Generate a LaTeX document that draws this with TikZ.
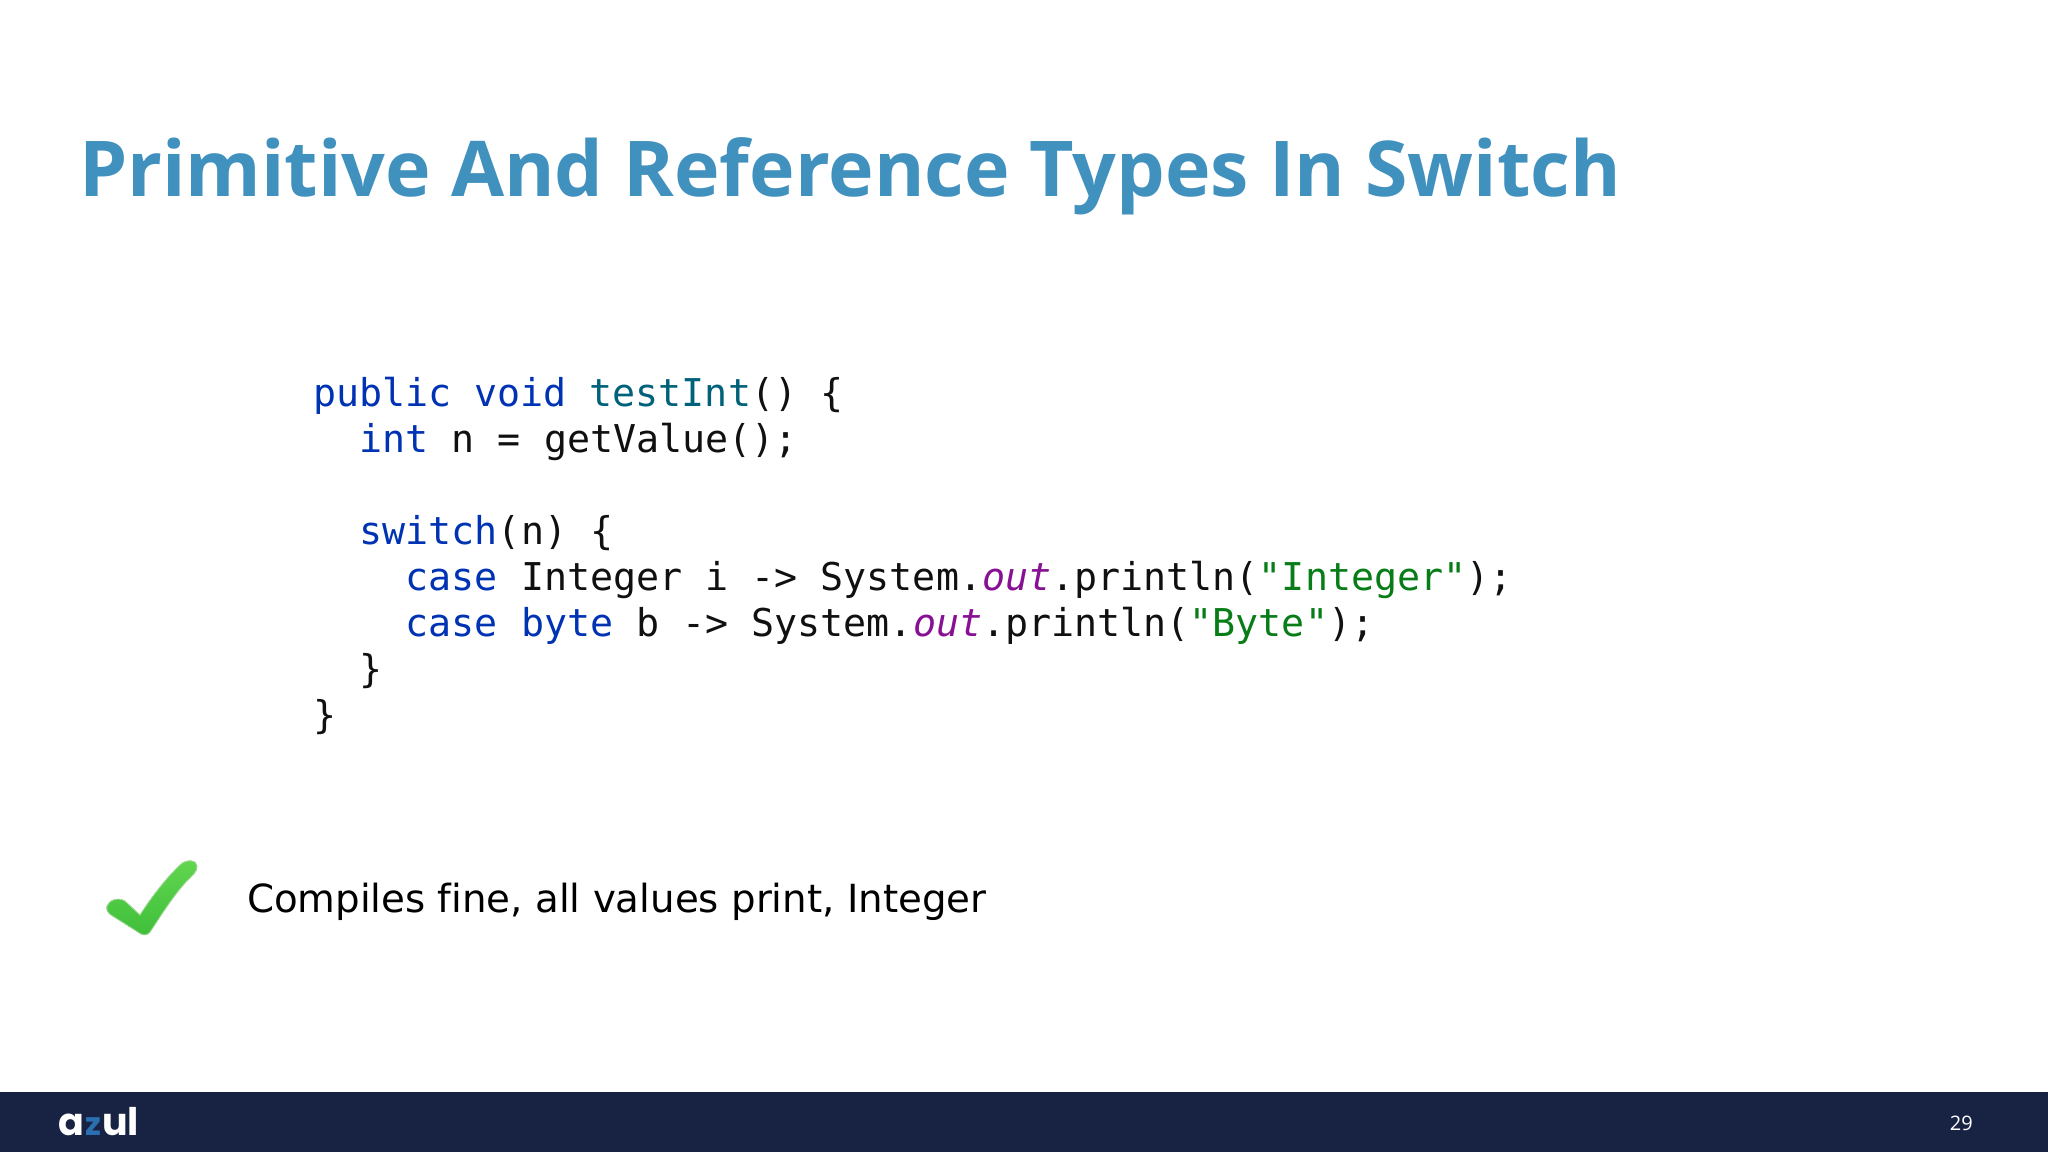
\documentclass[tikz,border=0pt]{standalone}
\usepackage{fontspec}
\setmainfont{Open Sans}
\setmonofont{DejaVu Sans Mono}
\newfontfamily\bodyfont{DejaVu Sans}
\newfontfamily\logofont{Poppins}
\definecolor{titleblue}{HTML}{4191BF}
\definecolor{kwblue}{HTML}{0033B3}
\definecolor{fnteal}{HTML}{00627A}
\definecolor{strgreen}{HTML}{067D17}
\definecolor{fieldpurple}{HTML}{871094}
\definecolor{barnavy}{HTML}{182343}
\definecolor{codeblack}{HTML}{101010}
\definecolor{chktop}{HTML}{62D650}
\definecolor{chkbot}{HTML}{3FBF3A}
\definecolor{chkedge}{HTML}{A6DE9B}
\definecolor{logoz}{HTML}{2A6FB0}
\newcommand{\kw}[1]{\textcolor{kwblue}{#1}}
\newcommand{\fn}[1]{\textcolor{fnteal}{#1}}
\newcommand{\str}[1]{\textcolor{strgreen}{#1}}
\newcommand{\fld}[1]{\textcolor{fieldpurple}{\itshape #1}}
\tikzset{
  txt/.style={anchor=base west,inner sep=0pt,outer sep=0pt},
  codeline/.style={txt,font=\ttfamily\fontsize{38.3}{46}\selectfont,text=codeblack},
}
\begin{document}
\begin{tikzpicture}[x=1pt,y=-1pt]
\useasboundingbox (0,0) rectangle (2048,1152);
\fill[white] (0,0) rectangle (2048,1152);
\node[txt,font=\fontsize{77}{90}\selectfont\bfseries,text=titleblue] (title) at (79,196) {Primitive And Reference Types In Switch};
\node[codeline] (l1) at (313,406) {\kw{public void} \fn{testInt}() \{};
\node[codeline] (l2) at (313.5,452) {\ \ \kw{int} n = getValue();};
\node[codeline] (l3) at (313.5,544) {\ \ \kw{switch}(n) \{};
\node[codeline] (l4) at (313.5,590) {\ \ \ \ \kw{case} Integer i -> System.\fld{out}.println(\str{"Integer"});};
\node[codeline] (l5) at (313.5,636) {\ \ \ \ \kw{case} \kw{byte} b -> System.\fld{out}.println(\str{"Byte"});};
\node[codeline] (l6) at (313.5,682) {\ \ \}};
\node[codeline] (l7) at (313.5,728) {\}};
\node[txt,font=\bodyfont\fontsize{38.75}{46}\selectfont,text=black] (msg) at (247,912) {Compiles f\kern0pt ine, all values print, Integer};
% check mark
\fill[top color=chktop,bottom color=chkbot,draw=chkedge,line width=0.8pt]
 (107,906) .. controls (109,900) and (118,897) .. (125,901)
 -- (140,915)
 .. controls (152,896) and (168,876) .. (181,864)
 .. controls (187,859) and (197,860) .. (197,866)
 .. controls (198,871) and (191,877) .. (186,882)
 .. controls (173,896) and (160,917) .. (152,929)
 .. controls (149,935) and (145,936) .. (141,934)
 -- (111,915) .. controls (108,913) and (106,910) .. (107,906) -- cycle;
% footer
\fill[barnavy] (0,1092) rectangle (2048,1152);
\node[txt,font=\logofont\fontsize{38}{40}\selectfont\bfseries,text=white] (loga) at (58,1135) {a};
\node[txt,font=\logofont\fontsize{32}{40}\selectfont\bfseries,text=logoz] (logz) at (85,1135) {z};
\node[txt,font=\logofont\fontsize{38}{40}\selectfont\bfseries,text=white] (logu) at (102,1135) {ul};
\node[anchor=base east,inner sep=0pt,font=\fontsize{20}{24}\selectfont,text=white] (page) at (1973,1130) {29};
\end{tikzpicture}
\end{document}
